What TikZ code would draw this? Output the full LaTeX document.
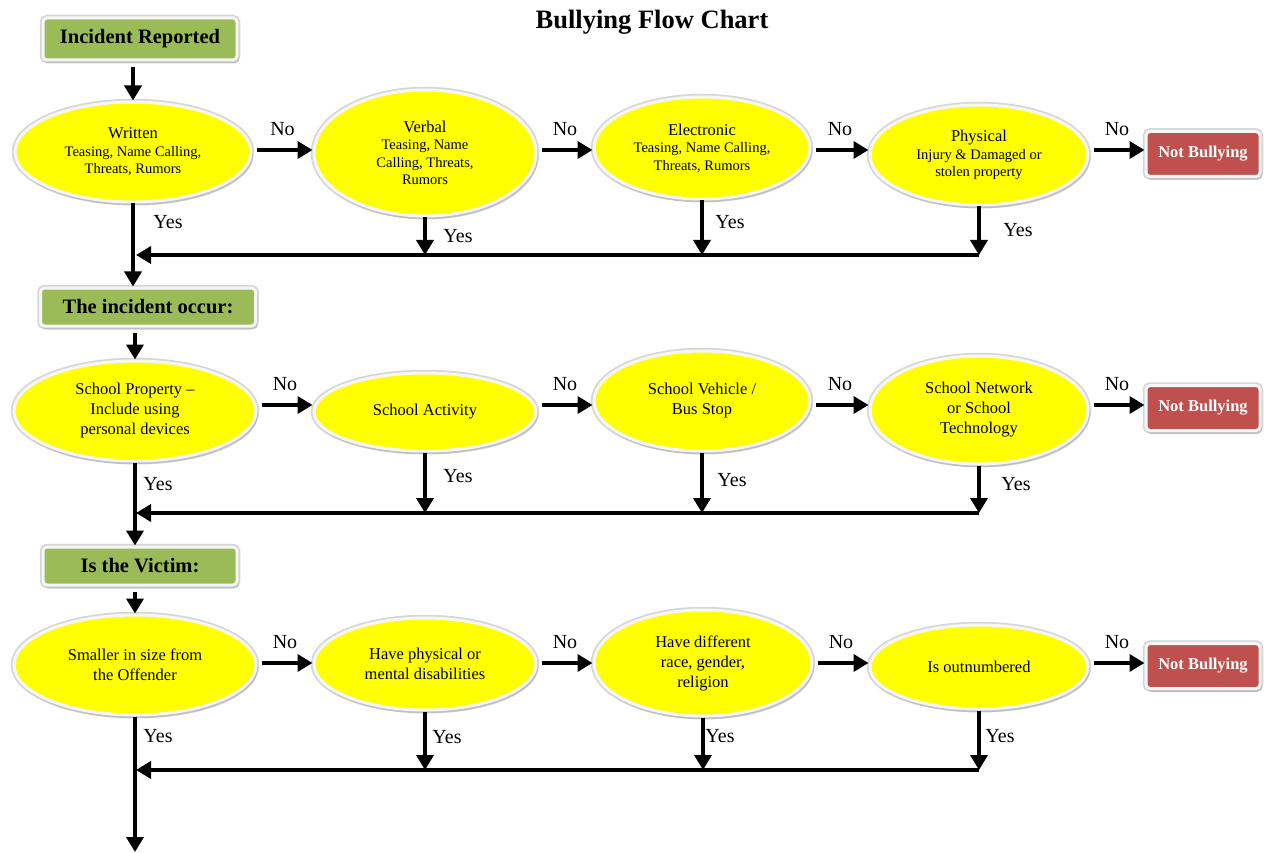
\documentclass[tikz,border=0pt]{standalone}
\usepackage{fontspec}
\setmainfont{Liberation Serif}
\usetikzlibrary{arrows.meta,shapes.geometric,shadows}
\definecolor{hdrgreen}{RGB}{155,187,89}
\definecolor{nbred}{RGB}{192,80,77}
\definecolor{ringgray}{RGB}{214,214,214}
\definecolor{ringwhite}{RGB}{246,246,246}
\definecolor{qyellow}{RGB}{255,255,0}
\newcommand{\mainsz}{\fontsize{16.5}{19}\selectfont}
\begin{document}
\begin{tikzpicture}[x=1pt,y=-1pt,
  ring/.style={preaction={draw=ringgray, line width=6.5pt}, draw=ringwhite, line width=3pt},
  q/.style={ellipse, fill=qyellow, ring, inner sep=0pt, align=center,
    font=\fontsize{14.5}{17.5}\selectfont,
    drop shadow={opacity=0.25,shadow xshift=2pt,shadow yshift=-3.5pt}},
  qm/.style={q, font=\fontsize{16.5}{20}\selectfont},
  hdr/.style={rectangle, rounded corners=4pt, fill=hdrgreen, ring,
    inner sep=0pt, font=\bfseries\fontsize{20.5}{23}\selectfont,
    drop shadow={opacity=0.25,shadow xshift=2pt,shadow yshift=-3.5pt}},
  nb/.style={rectangle, rounded corners=4pt, fill=nbred, ring,
    inner sep=0pt, text=white, font=\bfseries\fontsize{16.5}{20}\selectfont,
    minimum width=114, minimum height=45,
    drop shadow={opacity=0.25,shadow xshift=2pt,shadow yshift=-3.5pt}},
  arr/.style={line width=3.6pt, -{Triangle[length=15pt,width=17pt]}},
  lbl/.style={font=\fontsize{20}{23}\selectfont, inner sep=0pt}
]
\useasboundingbox (0,0) rectangle (1264,853);

\node[font=\bfseries\fontsize{26.5}{30}\selectfont] (title) at (652,22) {Bullying Flow Chart};

% ---------------- Row 1 ----------------
\node[hdr, minimum width=194, minimum height=42] (h1) at (140,39) {Incident Reported};
\coordinate (r1) at (0,150);
\node[q, minimum width=236, minimum height=100] (a1) at (133,152)
  {{\mainsz Written}\\Teasing, Name Calling,\\Threats, Rumors};
\node[q, minimum width=222, minimum height=126] (a2) at (425,153)
  {{\mainsz Verbal}\\Teasing, Name\\Calling, Threats,\\Rumors};
\node[q, minimum width=216, minimum height=102] (a3) at (702,148)
  {{\mainsz Electronic}\\Teasing, Name Calling,\\Threats, Rumors};
\node[q, minimum width=218, minimum height=100] (a4) at (979,155)
  {{\mainsz Physical}\\Injury \& Damaged or\\stolen property};
\node[nb] (n1) at (1203,154) {Not Bullying};

\draw[arr] (h1.south -| a1.north) ++(0,6) -- (a1.north);
\draw[arr, shorten <=4pt] (a1.east |- r1) -- node[lbl, above=13pt] (no11) {No} (a2.west |- r1);
\draw[arr, shorten <=4pt] (a2.east |- r1) -- node[lbl, above=13pt] (no12) {No} (a3.west |- r1);
\draw[arr, shorten <=4pt] (a3.east |- r1) -- node[lbl, above=13pt] (no13) {No} (a4.west |- r1);
\draw[arr, shorten <=4pt] (a4.east |- r1) -- node[lbl, above=13pt] (no14) {No} (n1.west |- r1);

\coordinate (j11) at (136,255);
\draw[arr] (a2.south) -- (a2.south |- j11);
\draw[arr] (a3.south) -- (a3.south |- j11);
\draw[arr] (a4.south) -- (a4.south |- j11);
\draw[arr] (a4.south |- j11) -- (j11);
\node[lbl] (y11) at (168,222) {Yes};
\node[lbl] (y12) at (458,236) {Yes};
\node[lbl] (y13) at (730,222) {Yes};
\node[lbl] (y14) at (1018,230) {Yes};

% ---------------- Row 2 ----------------
\node[hdr, minimum width=215, minimum height=38] (h2) at (148,307) {The incident occur:};
\draw[arr] (a1.south) -- (a1.south |- h2.north);
\coordinate (r2) at (0,405);
\node[qm, minimum width=242, minimum height=100] (b1) at (135,411)
  {School Property --\\Include using\\personal devices};
\node[qm, minimum width=222, minimum height=78] (b2) at (425,412) {School Activity};
\node[qm, minimum width=216, minimum height=100] (b3) at (702,401) {School Vehicle /\\Bus Stop};
\node[qm, minimum width=218, minimum height=108] (b4) at (979,410) {School Network\\or School\\Technology};
\node[nb] (n2) at (1203,408) {Not Bullying};

\draw[arr] (h2.south -| b1.north) ++(0,5) -- (b1.north);
\draw[arr, shorten <=4pt] (b1.east |- r2) -- node[lbl, above=13pt] (no21) {No} (b2.west |- r2);
\draw[arr, shorten <=4pt] (b2.east |- r2) -- node[lbl, above=13pt] (no22) {No} (b3.west |- r2);
\draw[arr, shorten <=4pt] (b3.east |- r2) -- node[lbl, above=13pt] (no23) {No} (b4.west |- r2);
\draw[arr, shorten <=4pt] (b4.east |- r2) -- node[lbl, above=13pt] (no24) {No} (n2.west |- r2);

\coordinate (j21) at (136,513);
\draw[arr] (b2.south) -- (b2.south |- j21);
\draw[arr] (b3.south) -- (b3.south |- j21);
\draw[arr] (b4.south) -- (b4.south |- j21);
\draw[arr] (b4.south |- j21) -- (j21);
\node[lbl] (y21) at (158,484) {Yes};
\node[lbl] (y22) at (458,476) {Yes};
\node[lbl] (y23) at (732,480) {Yes};
\node[lbl] (y24) at (1016,484) {Yes};

% ---------------- Row 3 ----------------
\node[hdr, minimum width=194, minimum height=38] (h3) at (140,566) {Is the Victim:};
\draw[arr] (b1.south) -- (b1.south |- h3.north);
\coordinate (r3) at (0,663);
\node[qm, minimum width=242, minimum height=100] (c1) at (135,665) {Smaller in size from\\the Offender};
\node[qm, minimum width=222, minimum height=92] (c2) at (425,664) {Have physical or\\mental disabilities};
\node[qm, minimum width=218, minimum height=106] (c3) at (703,663) {Have different\\race, gender,\\religion};
\node[qm, minimum width=218, minimum height=84] (c4) at (979,667) {Is outnumbered};
\node[nb] (n3) at (1203,666) {Not Bullying};

\draw[arr] (h3.south -| c1.north) ++(0,5) -- (c1.north);
\draw[arr, shorten <=4pt] (c1.east |- r3) -- node[lbl, above=13pt] (no31) {No} (c2.west |- r3);
\draw[arr, shorten <=4pt] (c2.east |- r3) -- node[lbl, above=13pt] (no32) {No} (c3.west |- r3);
\draw[arr, shorten <=4pt] (c3.east |- r3) -- node[lbl, above=13pt] (no33) {No} (c4.west |- r3);
\draw[arr, shorten <=4pt] (c4.east |- r3) -- node[lbl, above=13pt] (no34) {No} (n3.west |- r3);

\coordinate (j31) at (136,770);
\draw[arr] (c2.south) -- (c2.south |- j31);
\draw[arr] (c3.south) -- (c3.south |- j31);
\draw[arr] (c4.south) -- (c4.south |- j31);
\draw[arr] (c4.south |- j31) -- (j31);
\node[lbl] (y31) at (158,736) {Yes};
\node[lbl] (y32) at (447,737) {Yes};
\node[lbl] (y33) at (720,736) {Yes};
\node[lbl] (y34) at (1000,736) {Yes};

\coordinate (end) at (135,852);
\draw[arr] (c1.south) -- (c1.south |- end);
\end{tikzpicture}
\end{document}
